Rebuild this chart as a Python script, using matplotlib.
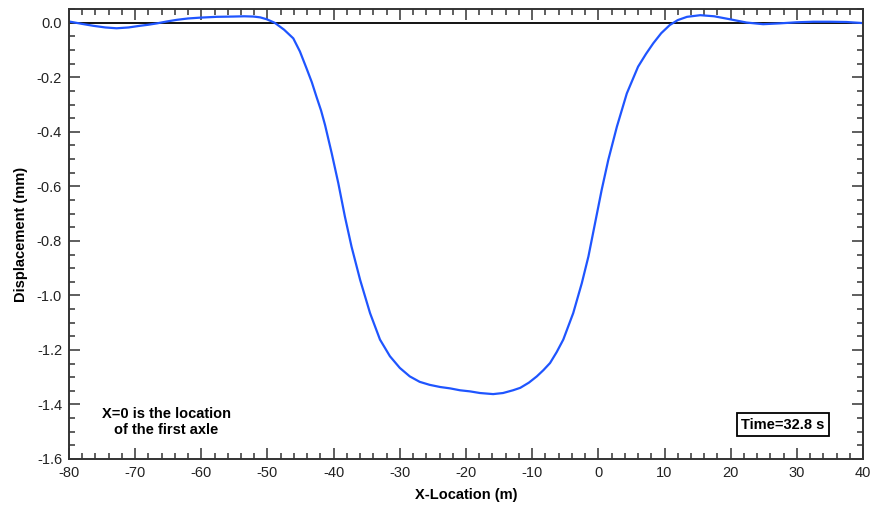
import matplotlib
matplotlib.use("Agg")
import matplotlib.pyplot as plt
from matplotlib.ticker import MultipleLocator

# displacement profile (x in m, y in mm)
x_loc = [-80, -78, -76.3, -74.5, -72.8, -71, -69.3, -68, -66.7, -65.2, -63.7, -62, -60.2,
         -57.7, -55.2, -53.5, -52.1, -51.1, -50.1, -48.9, -47.5, -46.1, -45.1, -44.1,
         -43.3, -42.6, -41.9, -41.3, -40.3, -39.3, -38.3, -37.3, -36.0, -34.5, -33.0,
         -31.5, -30.0, -28.5, -27.0, -25.5, -23.9, -22.4, -20.9, -19.4, -17.9, -15.9,
         -14.4, -12.9, -11.8, -10.5, -9.3, -8.3, -7.3, -6.3, -5.3, -3.8, -2.5, -1.5,
         -0.5, 0.5, 1.5, 2.8, 4.3, 6.0, 7.2, 8.3, 9.5, 10.8, 12.0, 13.4, 15.4, 17.5,
         19.9, 22.4, 24.9, 27.4, 30.0, 32.5, 35.0, 37.5, 40]
disp = [0.005, -0.004, -0.011, -0.017, -0.02, -0.017, -0.011, -0.007, -0.002, 0.005, 0.011,
        0.016, 0.019, 0.022, 0.023, 0.024, 0.023, 0.020, 0.013, 0.0, -0.025, -0.057, -0.105,
        -0.167, -0.218, -0.271, -0.322, -0.375, -0.478, -0.588, -0.711, -0.821, -0.943,
        -1.065, -1.162, -1.223, -1.266, -1.297, -1.317, -1.328, -1.336, -1.341, -1.348,
        -1.352, -1.358, -1.362, -1.358, -1.348, -1.339, -1.320, -1.297, -1.274, -1.248,
        -1.208, -1.162, -1.065, -0.955, -0.857, -0.735, -0.613, -0.503, -0.381, -0.259,
        -0.161, -0.114, -0.075, -0.038, -0.008, 0.010, 0.022, 0.028, 0.024, 0.013, 0.001,
        -0.005, -0.002, 0.002, 0.004, 0.004, 0.003, -0.001]

note_text = "X=0 is the location\nof the first axle"
time_text = "Time=32.8 s"

plt.rcParams['font.family'] = ['Liberation Sans', 'DejaVu Sans']
plt.rcParams['axes.unicode_minus'] = False

fig = plt.figure(figsize=(8.73, 5.11), dpi=100)
ax = fig.add_axes([0.079, 0.1018, 0.9096, 0.8802])

ax.axhline(0, color='black', lw=1.3, zorder=1)
ax.plot(x_loc, disp, color='#1f55ff', lw=1.6, zorder=2)

ax.set_xlim(-80, 40)
ax.set_ylim(-1.6, 0.05)
ax.xaxis.set_major_locator(MultipleLocator(10))
ax.xaxis.set_minor_locator(MultipleLocator(2))
ax.yaxis.set_major_locator(MultipleLocator(0.2))
ax.yaxis.set_minor_locator(MultipleLocator(0.05))
ax.yaxis.set_major_formatter(plt.FuncFormatter(lambda v, p: f"{v:.1f}"))

ax.tick_params(which='both', direction='in', top=True, right=True, width=1.1,
               color='#333333', labelsize=10.5, labelcolor='#222222')
ax.tick_params(which='major', length=8)
ax.tick_params(which='minor', length=4.3)
ax.tick_params(axis='x', pad=5)
ax.tick_params(axis='y', pad=5)
for s in ax.spines.values():
    s.set_linewidth(1.4)
    s.set_color('#333333')

ax.set_xlabel('X-Location (m)', fontsize=10.5, fontweight='bold', labelpad=6)
ax.set_ylabel('Displacement (mm)', fontsize=10.5, fontweight='bold', labelpad=6)

ax.text(-65.3, -1.463, note_text, ha='center', va='center', fontsize=10.5,
        fontweight='bold', linespacing=1.2)
ax.text(27.9, -1.474, time_text, ha='center', va='center', fontsize=10.5,
        fontweight='bold',
        bbox=dict(boxstyle='square,pad=0.3', fc='white', ec='black', lw=1.3))

fig.savefig('out.png', dpi=100)
